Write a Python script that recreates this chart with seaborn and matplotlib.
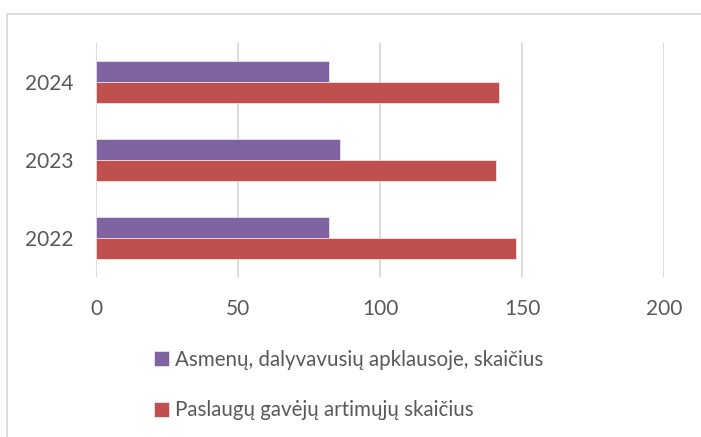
import matplotlib
matplotlib.use("Agg")
import matplotlib.pyplot as plt
from matplotlib.patches import Rectangle
import pandas as pd
import seaborn as sns

years = ["2024", "2023", "2022"]
survey = [82, 86, 82]
relatives = [142, 141, 148]
series = ["Asmenų, dalyvavusių apklausoje, skaičius",
          "Paslaugų gavėjų artimųjų skaičius"]
xticks = [0, 50, 100, 150, 200]

df = pd.DataFrame({
    "year": years * 2,
    "value": survey + relatives,
    "series": [series[0]] * 3 + [series[1]] * 3,
})

sns.set_style("white")
plt.rcParams["font.family"] = ["Lato", "DejaVu Sans"]
grey = "#595959"

fig = plt.figure(figsize=(7.01, 4.37), dpi=100)
ax = fig.add_axes([96 / 701, 1 - 277 / 437, (664 - 96) / 701, (277 - 43) / 437])

sns.barplot(data=df, x="value", y="year", hue="series", order=years,
            hue_order=series, palette=["#8064A2", "#C0504D"], orient="h",
            width=0.526, gap=0, errorbar=None, ax=ax, legend=True,
            saturation=1, edgecolor="white", linewidth=0.4, zorder=3)

ax.set_xlim(0, 200)
ax.set_xticks(xticks)
ax.grid(axis="x", color="#D9D9D9", linewidth=1.3, zorder=0)
ax.grid(axis="y", visible=False)
for s in ax.spines.values():
    s.set_visible(False)
ax.set_xlabel("")
ax.set_ylabel("")
ax.tick_params(axis="x", length=0, pad=16, labelsize=15, labelcolor=grey)
ax.tick_params(axis="y", length=0, pad=16, labelsize=15, labelcolor=grey)

handles, labels = ax.get_legend_handles_labels()
ax.get_legend().remove()
fig.legend(handles, labels, loc="upper left", bbox_to_anchor=(135 / 701, 1 - 331 / 437),
           frameon=False, fontsize=14.8, labelcolor=grey, handlelength=0.75,
           handleheight=0.75, handletextpad=0.3, labelspacing=1.5)

top = 1 - 14 / 437
fig.patches.append(Rectangle((7 / 701, -0.2), 1.2, top + 0.2,
                             transform=fig.transFigure, fill=False,
                             edgecolor="#D9D9D9", linewidth=1.2))

fig.savefig("out.png", dpi=100, facecolor="white")
